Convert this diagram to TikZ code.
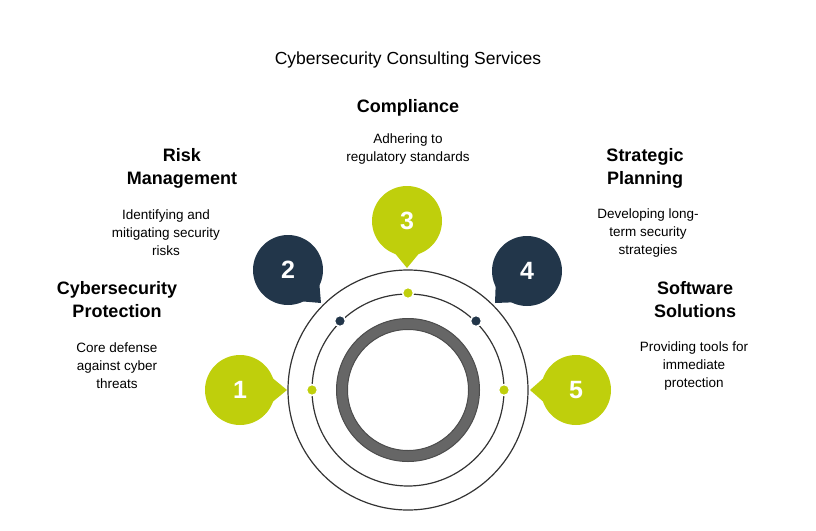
\documentclass[tikz,border=0pt]{standalone}
\usepackage{fontspec}
\setmainfont{Liberation Sans}
\usetikzlibrary{calc}
\definecolor{lime}{HTML}{BFCF0C}
\definecolor{navy}{HTML}{22364A}
\definecolor{ringgray}{HTML}{666666}
\begin{document}
\begin{tikzpicture}[x=1pt,y=-1pt,
    head/.style={font=\fontsize{18}{23}\selectfont\bfseries,align=center},
    body/.style={font=\fontsize{13.5}{18}\selectfont,align=center},
    num/.style={font=\fontsize{25}{25}\selectfont\bfseries,text=white},
    dot/.style={circle,draw=white,line width=1.5pt,inner sep=0pt,minimum size=11pt}]
    \useasboundingbox (0,0) rectangle (816,530);
    % title
    \node[font=\fontsize{17.5}{20}\selectfont] (title) at (408,60) {Cybersecurity Consulting Services};

    % rings
    \coordinate (c) at (408,390);
    \draw[line width=1.2pt,draw=black!80] (c) circle (120);
    \draw[line width=1.2pt,draw=black!80] (c) circle (96);
    \draw[line width=11pt,draw=ringgray] (c) circle (66);
    \draw[line width=1pt,draw=black!70] (c) circle (71.5) (c) circle (60.5);

    % dots on the middle ring
    \node[dot,fill=lime] (d1) at (312,390) {};
    \node[dot,fill=navy] (d2) at (340,321) {};
    \node[dot,fill=lime] (d3) at (408,293) {};
    \node[dot,fill=navy] (d4) at (476,321) {};
    \node[dot,fill=lime] (d5) at (504,390) {};

    % numbered bubbles: number/centre/tip/colour
    \foreach \k/\bx/\by/\tx/\ty/\col in {1/240/390/287/390/lime, 2/288/270/321/303/navy,
        3/407/221/407/268/lime, 4/527/271/495/303/navy, 5/576/390/530/390/lime} {
        \coordinate (t\k) at (\tx,\ty);
        \coordinate (b\k) at (\bx,\by);
        \path let \p1=($(t\k)-(b\k)$), \n1={atan2(-\y1,\x1)} in
            coordinate (p\k) at ($(b\k)+(\n1+22:34)$)
            coordinate (q\k) at ($(b\k)+(\n1-22:34)$);
        \fill[\col] (b\k) circle (35);
        \fill[\col] (p\k) -- (t\k) -- (q\k) -- cycle;
        \node[num] (n\k) at (b\k) {\k};
    }

    % labels
    \node[head] (h1) at (117,300) {Cybersecurity\\Protection};
    \node[body] (l1) at (117,366) {Core defense\\against cyber\\threats};
    \node[head] (h2) at (182,168) {Risk\\Management};
    \node[body] (l2) at (166,233) {Identifying and\\mitigating security\\risks};
    \node[head] (h3) at (408,108) {Compliance};
    \node[body] (l3) at (408,149) {Adhering to\\regulatory standards};
    \node[head] (h4) at (645,168) {Strategic\\Planning};
    \node[body] (l4) at (648,233) {Developing long-\\term security\\strategies};
    \node[head] (h5) at (695,300) {Software\\Solutions};
    \node[body] (l5) at (694,366) {Providing tools for\\immediate\\protection};
\end{tikzpicture}
\end{document}
